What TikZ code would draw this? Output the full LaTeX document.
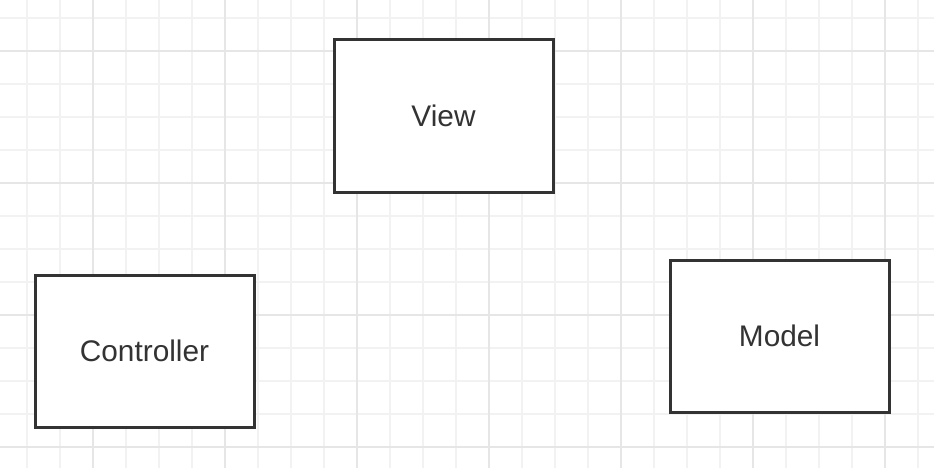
\documentclass[tikz,border=0pt]{standalone}
\usepackage{fontspec}
\setmainfont{Liberation Sans}
\definecolor{gridminor}{HTML}{F2F2F2}
\definecolor{gridmajor}{HTML}{E6E6E6}
\definecolor{boxline}{HTML}{333333}
\definecolor{boxtext}{HTML}{333333}
\tikzset{
  mvcbox/.style={draw=boxline, line width=3pt, fill=white, rectangle,
    minimum width=219pt, minimum height=152pt, inner sep=0pt,
    text=boxtext, font=\fontsize{29.8}{35}\selectfont},
  minorline/.style={draw=gridminor, line width=1.6pt},
  majorline/.style={draw=gridmajor, line width=2pt}
}
\begin{document}
\begin{tikzpicture}[x=1pt, y=-1pt]
\useasboundingbox (0,0) rectangle (934,468);
\fill[white] (0,0) rectangle (934,468);
% grid
\foreach \k in {0,...,27} {
  \pgfmathsetmacro{\gx}{27+33*\k}
  \draw[minorline] (\gx,0) -- (\gx,468);
}
\foreach \k in {0,...,13} {
  \pgfmathsetmacro{\gy}{18+33*\k}
  \draw[minorline] (0,\gy) -- (934,\gy);
}
\foreach \gx in {93,225,357,489,621,753,885} {
  \draw[majorline] (\gx,0) -- (\gx,468);
}
\foreach \gy in {51,183,315,447} {
  \draw[majorline] (0,\gy) -- (934,\gy);
}
% boxes
\node[mvcbox] (view) at (443.5,116) {View};
\node[mvcbox] (controller) at (144.5,351) {Controller};
\node[mvcbox] (model) at (779.5,336) {Model};
\end{tikzpicture}
\end{document}
